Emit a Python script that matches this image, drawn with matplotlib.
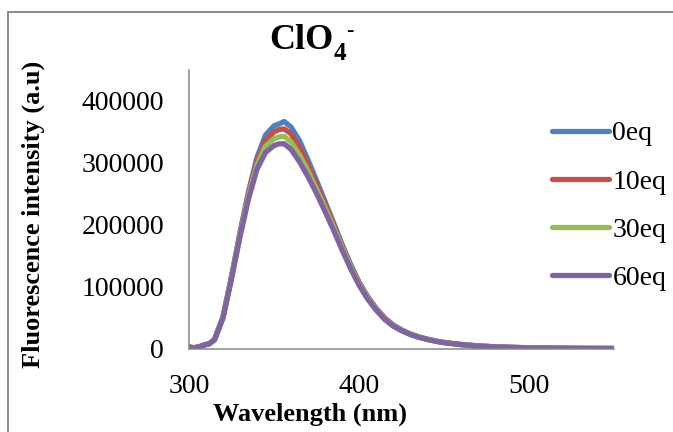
import matplotlib
matplotlib.use("Agg")
import matplotlib.pyplot as plt
from matplotlib.patches import Rectangle

# wavelength grid (nm) and intensities
wavelength = [300, 303, 306, 309, 312, 315, 320, 325, 330, 335, 340, 345, 350,
              353, 356, 360, 365, 370, 375, 380, 385, 390, 395, 400, 405, 410,
              415, 420, 425, 430, 435, 440, 445, 450, 460, 470, 480, 490, 500,
              510, 520, 530, 540, 550]

eq0 = [3000, 2000, 3500, 6500, 8500, 15000, 52000, 117000, 188000, 254000,
       309000, 345000, 360000, 363000, 367000, 358000, 336000, 305000, 272000,
       238000, 204000, 169000, 137000, 108000, 85000, 66000, 50500, 39000,
       31000, 24500, 19700, 16000, 13000, 10600, 7300, 5000, 3500, 2600, 2000,
       1500, 1200, 1000, 900, 800]
eq10 = [3000, 2000, 3500, 6500, 8500, 15000, 51000, 116000, 186000, 251000,
        303000, 336000, 350000, 354000, 355000, 347000, 325000, 297000, 266000,
        234000, 201000, 167000, 135000, 107000, 84000, 65000, 50000, 38500,
        30500, 24300, 19500, 15800, 12800, 10500, 7200, 5000, 3500, 2600, 2000,
        1500, 1200, 1000, 900, 800]
eq30 = [3000, 2000, 3500, 6500, 8500, 15000, 51000, 115000, 184000, 247000,
        297000, 327000, 339000, 342000, 343000, 334000, 313000, 287000, 258000,
        228000, 197000, 164000, 133000, 105000, 83000, 64000, 49000, 38000,
        30000, 24000, 19300, 15700, 12700, 10400, 7100, 4900, 3500, 2600, 2000,
        1500, 1200, 1000, 900, 800]
eq60 = [3000, 2000, 3500, 6500, 8500, 15000, 50000, 113000, 181000, 242000,
        290000, 317000, 328000, 331000, 331000, 322000, 302000, 278000, 251000,
        222000, 192000, 160000, 130000, 103000, 81000, 63000, 48000, 37000,
        29500, 23500, 19000, 15500, 12500, 10200, 7000, 4800, 3400, 2500, 1900,
        1500, 1200, 1000, 900, 800]

series = [("0eq", eq0, "#4F81BD"), ("10eq", eq10, "#C0504D"),
          ("30eq", eq30, "#9BBB59"), ("60eq", eq60, "#8064A2")]

plt.rcParams["font.family"] = ["Liberation Serif", "DejaVu Serif"]

fig = plt.figure(figsize=(6.73, 4.32), dpi=100)
ax = fig.add_axes([189 / 673, 83 / 432, 425 / 673, 279 / 432])

for name, vals, col in series:
    ax.plot(wavelength, vals, color=col, lw=3.8, label=name,
            solid_capstyle="round", solid_joinstyle="round")

ax.set_xlim(300, 550)
ax.set_ylim(0, 450000)
ax.set_xticks([300, 400, 500])
ax.set_yticks([0, 100000, 200000, 300000, 400000])
ax.set_yticklabels(["0", "100000", "200000", "300000", "400000"])
ax.tick_params(length=0, labelsize=20)
ax.tick_params(axis="y", pad=18)
ax.tick_params(axis="x", pad=18)
for s in ["top", "right"]:
    ax.spines[s].set_visible(False)
for s in ["left", "bottom"]:
    ax.spines[s].set_color("#868686")
    ax.spines[s].set_linewidth(1.1)

fig.text(310 / 673, (432 - 421) / 432, "Wavelength (nm)", fontsize=19,
         fontweight="bold", ha="center", va="baseline")
fig.text(33 / 673, 218 / 432, "Fluorescence intensity (a.u)", fontsize=19,
         fontweight="bold", rotation=90, ha="center", va="center")

# title ClO4- with subscript and superscript
fig.text(269 / 673, (432 - 49) / 432, "ClO", fontsize=26, fontweight="bold",
         ha="left", va="baseline")
fig.text(334 / 673, (432 - 60) / 432, "4", fontsize=18, fontweight="bold",
         ha="left", va="baseline")
fig.text(346 / 673, (432 - 36) / 432, "-", fontsize=16, fontweight="bold",
         ha="left", va="baseline")

leg = ax.legend(loc="upper left", bbox_to_anchor=(552 / 673, (432 - 121) / 432),
                bbox_transform=fig.transFigure, frameon=False, fontsize=20,
                handlelength=2.05, handletextpad=0.12, labelspacing=0.82,
                borderpad=0, borderaxespad=0)

fig.patches.append(Rectangle((7.5 / 673, -0.1), 1.2, (432 - 11.5) / 432 + 0.1,
                             transform=fig.transFigure, fill=False,
                             edgecolor="#888888", lw=1.4))

fig.savefig("out.png", dpi=100)
